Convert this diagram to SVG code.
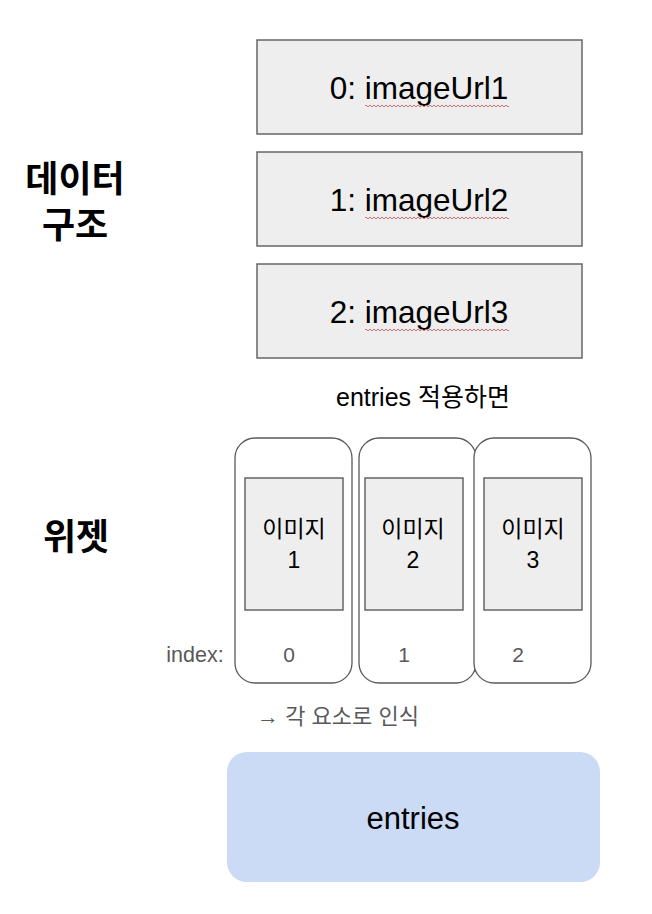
<svg xmlns="http://www.w3.org/2000/svg" width="652" height="914" viewBox="0 0 652 914">
<defs>
<style>
.box{fill:#eeeeee;stroke:#666666;stroke-width:1.5}
.card{fill:#ffffff;stroke:#595959;stroke-width:1.3}
.t{font-family:"Liberation Sans","Noto Sans CJK KR",sans-serif;fill:#000;text-anchor:middle}
.b{font-family:"Liberation Sans","Noto Sans CJK KR",sans-serif;font-weight:bold;fill:#000;text-anchor:middle;font-size:36px}
.g{fill:#595959}
</style>
<pattern id="zz" width="4" height="4" patternUnits="userSpaceOnUse"><path d="M0,3 L2,1 L4,3" fill="none" stroke="#e06060" stroke-width="0.9"/></pattern>
</defs>
<rect width="652" height="914" fill="#ffffff"/>
<g id="labels">
<text class="b" x="75" y="192">데이터</text>
<text class="b" x="75" y="238">구조</text>
<text class="b" x="76" y="550">위젯</text>
</g>
<g id="data0"><rect class="box" x="257" y="40" width="325" height="94"/><text class="t" x="419" y="99" font-size="31.5">0: imageUrl1</text><rect x="365" y="104" width="144" height="4" fill="url(#zz)"/></g>
<g id="data1"><rect class="box" x="257" y="152" width="325" height="94"/><text class="t" x="419" y="211" font-size="31.5">1: imageUrl2</text><rect x="365" y="216" width="144" height="4" fill="url(#zz)"/></g>
<g id="data2"><rect class="box" x="257" y="264" width="325" height="94"/><text class="t" x="419" y="323" font-size="31.5">2: imageUrl3</text><rect x="365" y="328" width="144" height="4" fill="url(#zz)"/></g>
<g id="caption"><text class="t" x="423" y="406" font-size="25">entries 적용하면</text></g>
<g id="card1"><rect class="card" x="235" y="438" width="117" height="245" rx="20"/><rect class="box" x="245" y="478" width="98" height="132" stroke-width="1.2"/><text class="t" x="294" y="537" font-size="23">이미지</text><text class="t" x="294" y="568" font-size="23">1</text><text class="t g" x="289" y="662" font-size="21">0</text></g>
<g id="card2"><rect class="card" x="359" y="438" width="117" height="245" rx="20"/><rect class="box" x="365" y="478" width="98" height="132" stroke-width="1.2"/><text class="t" x="413" y="537" font-size="23">이미지</text><text class="t" x="413" y="568" font-size="23">2</text><text class="t g" x="404" y="662" font-size="21">1</text></g>
<g id="card3"><rect class="card" x="474" y="438" width="117" height="245" rx="20"/><rect class="box" x="484" y="478" width="98" height="132" stroke-width="1.2"/><text class="t" x="533" y="537" font-size="23">이미지</text><text class="t" x="533" y="568" font-size="23">3</text><text class="t g" x="518" y="662" font-size="21">2</text></g>
<g id="index"><text class="t g" x="195" y="662" font-size="21.5">index:</text></g>
<g id="note"><text class="t g" x="338" y="724" font-size="22">→ 각 요소로 인식</text></g>
<g id="entries"><rect x="227" y="752" width="373" height="130" rx="20" fill="#cbdaf5"/><text class="t" x="413" y="829" font-size="31">entries</text></g>
<g id="connectors"></g>
</svg>
